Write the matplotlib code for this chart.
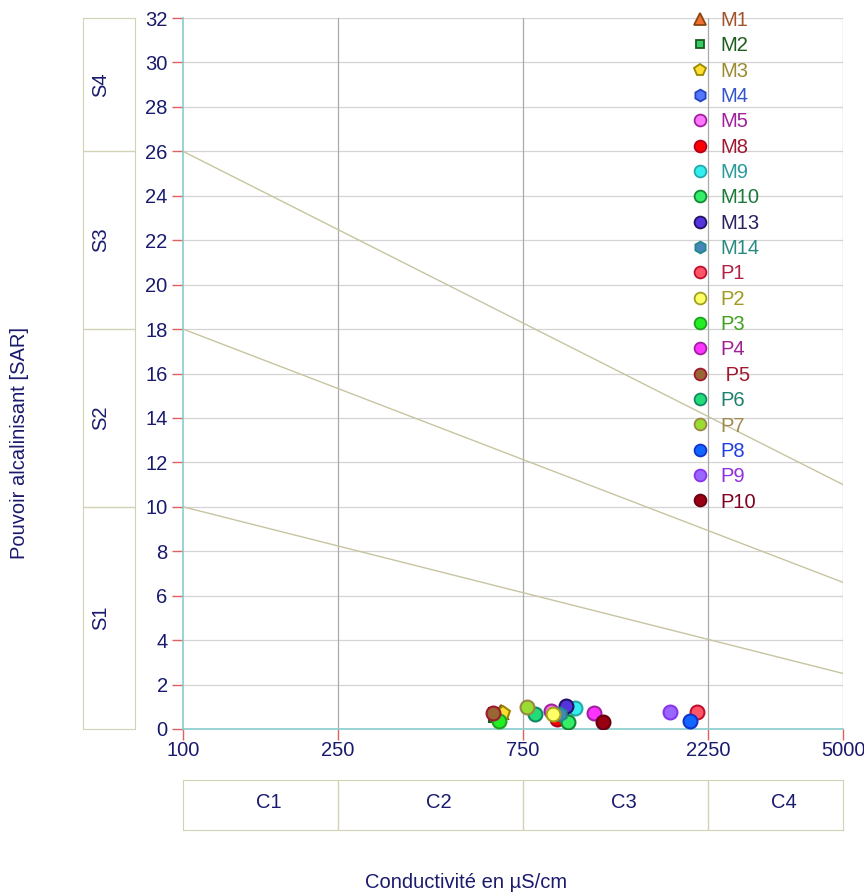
import numpy as np
import matplotlib
matplotlib.use("Agg")
import matplotlib.pyplot as plt
from matplotlib.lines import Line2D

plt.rcParams['font.family'] = ['Liberation Sans', 'DejaVu Sans']

# samples: conductivity (uS/cm) and SAR
labels = ["M1", "M2", "M3", "M4", "M5", "M8", "M9", "M10", "M13", "M14",
          "P1", "P2", "P3", "P4", " P5", "P6", "P7", "P8", "P9", "P10"]
ec = [657, 640, 665, 945, 886, 918, 1021, 977, 968, 937,
      2100, 898, 651, 1143, 627, 806, 767, 2019, 1793, 1203]
sar = [0.78, 0.65, 0.70, 0.70, 0.81, 0.45, 0.96, 0.30, 1.05, 0.66,
       0.78, 0.66, 0.37, 0.71, 0.71, 0.66, 0.98, 0.37, 0.75, 0.33]
markers = ["^", "s", "p", "h", "o", "o", "o", "o", "o", "h",
           "o", "o", "o", "o", "o", "o", "o", "o", "o", "o"]
face = ["#f07030", "#33cc66", "#ffdd33", "#5577ff", "#ff77ff", "#ff0000", "#33eeee", "#33ee66", "#5533dd", "#4488bb",
        "#ff5566", "#ffff66", "#22ee22", "#ff33ff", "#996633", "#22dd77", "#99dd33", "#1166ff", "#9966ff", "#990011"]
edge = ["#8b4513", "#1a5c1a", "#998800", "#2244bb", "#a020a0", "#b00020", "#22aaaa", "#118833", "#221166", "#228888",
        "#c01030", "#a0a020", "#22a022", "#a020a0", "#a01830", "#118866", "#998844", "#1133cc", "#8833ee", "#660011"]
text_col = ["#a0522d", "#1e5c1e", "#9a8a30", "#3355cc", "#a020a0", "#a01830", "#2a9a9a", "#1a7a3a", "#2a2060", "#2a8a80",
            "#b02040", "#a09a20", "#40a020", "#a02090", "#a01830", "#208070", "#a08a50", "#2040e0", "#9030e0", "#800020"]

# classification boundaries (SAR at EC=100 and EC=5000)
bound_left = [10, 18, 26]
bound_right = [2.5, 6.6, 11.0]
ec_limits = [100, 5000]
ec_ticks = [100, 250, 750, 2250, 5000]
sar_ticks = list(range(0, 33, 2))
s_classes = ["S1", "S2", "S3", "S4"]
s_edges = [0, 10, 18, 26, 32]
c_classes = ["C1", "C2", "C3", "C4"]
c_edges = [100, 250, 750, 2250, 5000]

navy = "#1a1a6e"
box_col = "#d4d2b4"
fs = 14.5

fig = plt.figure(figsize=(8.64, 8.93), dpi=100)
ax = fig.add_axes([183 / 864, 1 - 729 / 893, 660 / 864, 711 / 893])
ax.set_xscale("log")
ax.set_xlim(ec_limits)
ax.set_ylim(0, 32)

for y in sar_ticks[1:]:
    ax.axhline(y, color="#d4d4d4", lw=0.9, zorder=1)
for x in ec_ticks[1:]:
    ax.axvline(x, color="#aaaaaa", lw=0.9, zorder=1)

for a, b in zip(bound_left, bound_right):
    ax.plot(ec_limits, [a, b], color="#c8c4a0", lw=1, zorder=2)

for i in range(len(labels)):
    ax.plot(ec[i], sar[i], marker=markers[i], ls="none", ms=10,
            mfc=face[i], mec=edge[i], mew=1.5, zorder=3)

for s in ["top", "right"]:
    ax.spines[s].set_visible(False)
for s in ["left", "bottom"]:
    ax.spines[s].set_color("#88cccc")
    ax.spines[s].set_linewidth(1.2)

ax.set_xticks(ec_ticks)
ax.set_xticklabels([str(t) for t in ec_ticks])
ax.xaxis.set_minor_locator(matplotlib.ticker.NullLocator())
ax.set_yticks(sar_ticks)
ax.tick_params(colors="#e06060", labelcolor=navy, labelsize=fs, length=8, width=1)
ax.tick_params(axis="x", pad=1)
ax.tick_params(axis="y", pad=3)

leg_size = {"s": 6, "^": 8, "p": 8.5}
handles = [Line2D([], [], marker=markers[i], ls="none", ms=leg_size.get(markers[i], 8.5),
                  mfc=face[i], mec=edge[i], mew=1.3)
           for i in range(len(labels))]
ax.legend(handles, labels, loc="upper left", bbox_to_anchor=(690 / 864, 1 - 11 / 893),
          bbox_transform=fig.transFigure, frameon=False, fontsize=fs,
          labelcolor=text_col, handlelength=1.0, handletextpad=0.5,
          borderpad=0, borderaxespad=0, labelspacing=0.315)

# S class boxes on the left
sax = fig.add_axes([83 / 864, 1 - 729 / 893, 52 / 864, 711 / 893])
sax.set_xlim(0, 1)
sax.set_ylim(0, 32)
sax.set_xticks([])
sax.set_yticks([])
for s in sax.spines.values():
    s.set_color(box_col)
for k in range(len(s_classes)):
    if k > 0:
        sax.axhline(s_edges[k], color=box_col, lw=1)
    sax.text(0.33, (s_edges[k] + s_edges[k + 1]) / 2, s_classes[k], rotation=90,
             ha="center", va="center", color=navy, fontsize=fs)

# C class boxes below
cax = fig.add_axes([183 / 864, 1 - 830 / 893, 660 / 864, 50 / 893])
cax.set_xscale("log")
cax.set_xlim(ec_limits)
cax.set_ylim(0, 1)
cax.set_xticks([])
cax.set_yticks([])
cax.xaxis.set_minor_locator(matplotlib.ticker.NullLocator())
for s in cax.spines.values():
    s.set_color(box_col)
for k in range(len(c_classes)):
    if k > 0:
        cax.axvline(c_edges[k], color=box_col, lw=1)
    cax.text(np.sqrt(c_edges[k] * c_edges[k + 1]) * 1.05, 0.55, c_classes[k],
             ha="center", va="center", color=navy, fontsize=fs)

fig.text(20 / 864, 1 - 443 / 893, "Pouvoir alcalinisant [SAR]", rotation=90,
         ha="center", va="center", color=navy, fontsize=fs)
fig.text(466 / 864, 1 - 882 / 893, "Conductivité en µS/cm",
         ha="center", va="center", color=navy, fontsize=fs)

fig.savefig("out.png", dpi=100)
